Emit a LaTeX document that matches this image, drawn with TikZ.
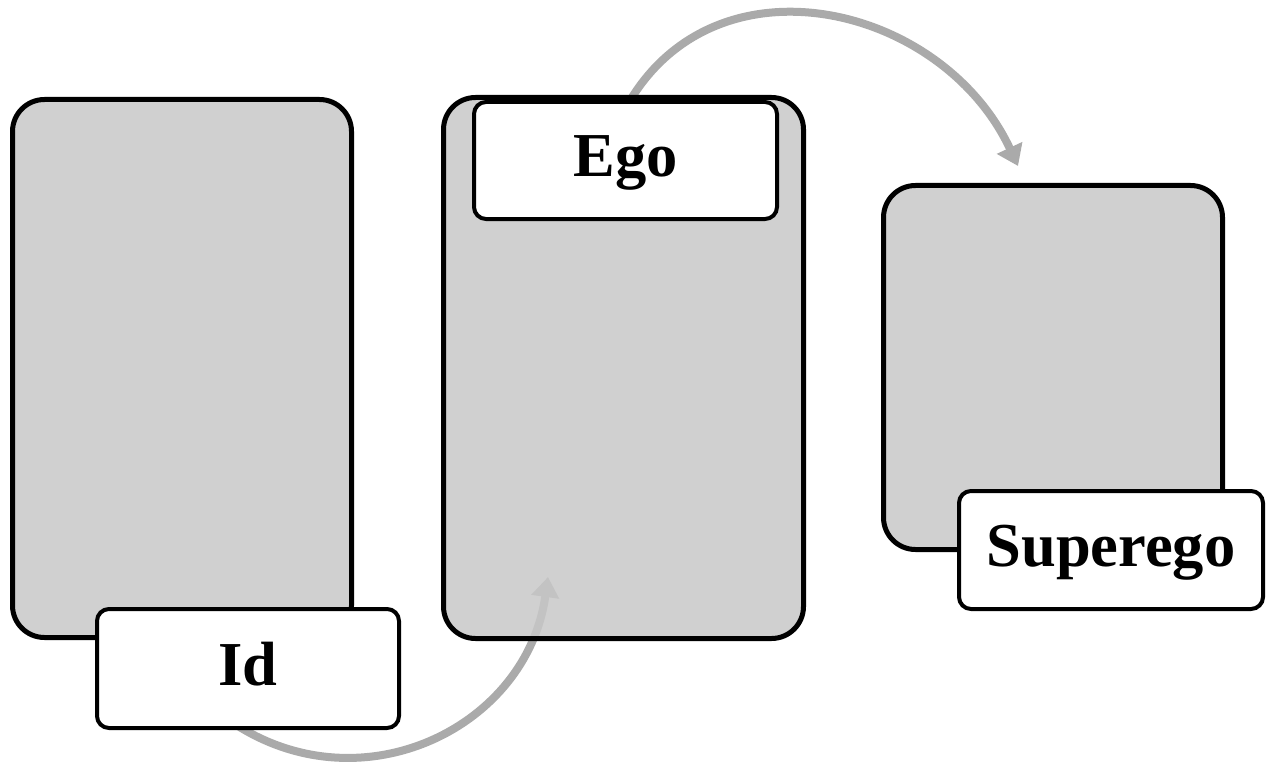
\documentclass[tikz,border=0pt]{standalone}
\usepackage{fontspec}
\setmainfont{Liberation Serif}
\usetikzlibrary{arrows.meta}
\definecolor{boxgray}{RGB}{208,208,208}
\definecolor{egogray}{RGB}{200,200,200}
\definecolor{arrowgray}{RGB}{170,170,170}
\tikzset{
  bigbox/.style={draw=black, line width=5pt, rounded corners=32pt, fill=boxgray, inner sep=0pt},
  labelbox/.style={draw=black, line width=4pt, rounded corners=12pt, fill=white, inner sep=0pt,
    minimum width=302pt, minimum height=118pt, text height=45pt, text depth=12pt,
    font=\bfseries\fontsize{62.5}{70}\selectfont},
  flow/.style={draw=arrowgray, line width=8pt, -{Triangle[length=20pt,width=27pt]}}
}
\begin{document}
\begin{tikzpicture}[x=1pt,y=-1pt]
\useasboundingbox (0,0) rectangle (1271,762);
\fill[white] (0,0) rectangle (1271,762);
% big grey boxes
\node[bigbox, minimum width=339pt, minimum height=538pt] (idbox) at (182,368.5) {};
\node[bigbox, minimum width=339pt, minimum height=364pt] (superbox) at (1053,367.5) {};
% connectors
\coordinate (supertip) at (1018,166);
\coordinate (egotip) at (548,577);
\coordinate (idstart) at (238,726);
\coordinate (egostart) at (628,104);
\draw[flow] (egostart) to[out=60,in=115,looseness=1.15] (supertip);
\draw[flow] (idstart) to[out=-32,in=-98,looseness=1.12] (egotip);
% ego box, slightly see-through
\node[bigbox, fill=egogray, fill opacity=0.85, minimum width=360pt, minimum height=541pt] (egobox) at (623.5,368) {};
% labels
\node[labelbox, minimum width=302pt, minimum height=119pt] (idlabel) at (248,668.5) {Id};
\node[labelbox, minimum width=303pt, minimum height=117pt] (egolabel) at (625.5,160.5) {Ego};
\node[labelbox, minimum width=304pt, minimum height=118pt] (superlabel) at (1111,550) {Superego};
\end{tikzpicture}
\end{document}
